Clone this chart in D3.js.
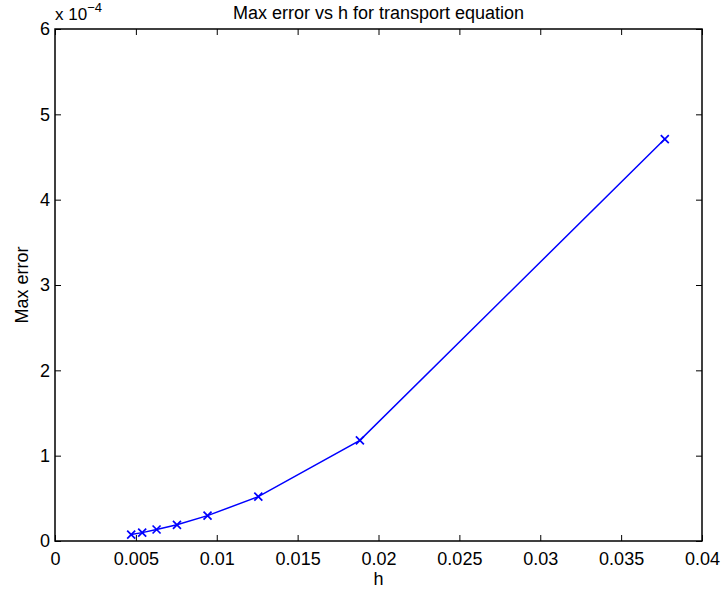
<!DOCTYPE html>
<html>
<head>
<meta charset="utf-8">
<script src="https://cdn.jsdelivr.net/npm/d3@7"></script>
<style>
  body { margin: 0; background: #fff; }
  text { font-family: "Liberation Sans", Arial, sans-serif; }
</style>
</head>
<body>
<svg id="chart" width="722" height="592"></svg>
<script>
// step sizes and max errors (in units of 1e-4)
const hValues = [0.00471, 0.00539, 0.00628, 0.00754, 0.00943, 0.01257, 0.01885, 0.0377]
const errValues = [0.075, 0.098, 0.135, 0.19, 0.297, 0.52, 1.18, 4.71]
const xTicks = [0, 0.005, 0.01, 0.015, 0.02, 0.025, 0.03, 0.035, 0.04]
const yTicks = [0, 1, 2, 3, 4, 5, 6]

const svg = d3.select('#chart')
const margin = { left: 55, right: 20, top: 29, bottom: 51 }
const width = 722 - margin.left - margin.right
const height = 592 - margin.top - margin.bottom

const x = d3.scaleLinear().domain([0, 0.04]).range([0, width])
const y = d3.scaleLinear().domain([0, 6]).range([height, 0])

const g = svg.append('g').attr('transform', `translate(${margin.left},${margin.top})`)

let styleAxis = (sel) => {
  sel.select('.domain').remove()
  sel.selectAll('line').attr('stroke', '#000')
  sel.selectAll('text').attr('font-size', 18).attr('fill', '#000')
}

// bottom + top axes
g.append('g')
  .attr('transform', `translate(0,${height})`)
  .call(d3.axisBottom(x).tickValues(xTicks).tickSize(-6).tickPadding(11).tickFormat(d => d === 0 ? '0' : String(+d.toFixed(3))))
  .call(styleAxis)
g.append('g')
  .call(d3.axisTop(x).tickValues(xTicks).tickSize(-6).tickFormat(''))
  .call(styleAxis)

// left + right axes
g.append('g')
  .call(d3.axisLeft(y).tickValues(yTicks).tickSize(-6).tickPadding(5).tickFormat(d3.format('d')))
  .call(styleAxis)
g.append('g')
  .attr('transform', `translate(${width},0)`)
  .call(d3.axisRight(y).tickValues(yTicks).tickSize(-6).tickFormat(''))
  .call(styleAxis)

// box
g.append('rect')
  .attr('width', width).attr('height', height)
  .attr('fill', 'none').attr('stroke', '#000').attr('stroke-width', 1.5)

const pts = hValues.map((h, i) => [h, errValues[i]])

g.append('path')
  .datum(pts)
  .attr('fill', 'none')
  .attr('stroke', '#0000ff')
  .attr('stroke-width', 1.5)
  .attr('d', d3.line().x(d => x(d[0])).y(d => y(d[1])))

g.selectAll('.mark')
  .data(pts)
  .enter()
  .append('path')
  .attr('class', 'mark')
  .attr('transform', d => `translate(${x(d[0])},${y(d[1])})`)
  .attr('d', 'M-4,-4L4,4M-4,4L4,-4')
  .attr('stroke', '#0000ff')
  .attr('stroke-width', 1.7)

// title and labels
svg.append('text')
  .attr('x', margin.left + width / 2).attr('y', 19)
  .attr('text-anchor', 'middle').attr('font-size', 18)
  .text('Max error vs h for transport equation')

svg.append('text')
  .attr('x', margin.left + width / 2).attr('y', 585)
  .attr('text-anchor', 'middle').attr('font-size', 18)
  .text('h')

svg.append('text')
  .attr('transform', `translate(28,${margin.top + height / 2}) rotate(-90)`)
  .attr('text-anchor', 'middle').attr('font-size', 18)
  .text('Max error')

const expo = svg.append('text').attr('x', 55).attr('y', 20).attr('font-size', 17)
expo.append('tspan').text('x 10')
expo.append('tspan').attr('dy', -8).attr('font-size', 13).text('\u22124')
</script>
</body>
</html>
